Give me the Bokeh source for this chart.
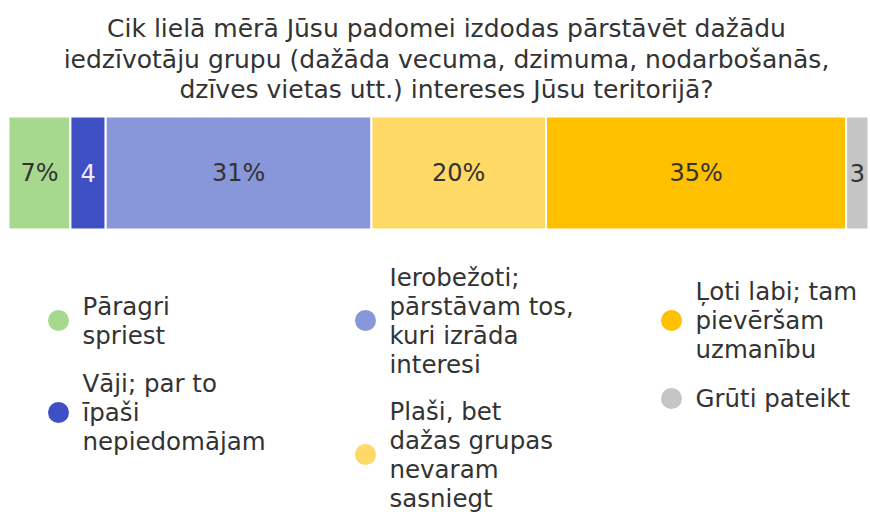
from bokeh.plotting import figure
from bokeh.models import Range1d, ColumnDataSource
from bokeh.core.properties import value
from bokeh.embed import file_html
from bokeh.resources import INLINE

# ---- data ----
title_lines = [
    "Cik lielā mērā Jūsu padomei izdodas pārstāvēt dažādu",
    "iedzīvotāju grupu (dažāda vecuma, dzimuma, nodarbošanās,",
    "dzīves vietas utt.) intereses Jūsu teritorijā?",
]
categories = [
    "Pāragri\nspriest",
    "Vāji; par to\nīpaši\nnepiedomājam",
    "Ierobežoti;\npārstāvam tos,\nkuri izrāda\ninteresi",
    "Plaši, bet\ndažas grupas\nnevaram\nsasniegt",
    "Ļoti labi; tam\npievēršam\nuzmanību",
    "Grūti pateikt",
]
values = [7.2, 4.1, 30.9, 20.3, 34.9, 2.6]
colors = ["#a6d98e", "#3f4fc4", "#8896da", "#ffd966", "#ffc000", "#c5c5c5"]
label_colors = ["#333333", "#eeeeff", "#333333", "#333333", "#333333", "#333333"]
legend_columns = [[0, 1], [2, 3], [4, 5]]

# ---- layout constants (page pixels) ----
W, H = 870, 512
X0 = 8
PX_PER_PCT = 8.6
BAR_TOP, BAR_BOTTOM = 116, 229
FONT = value("DejaVu Sans")
LINE_H = 28
GAP = 22
COL_X = [58, 365, 671]
FIRST_CENTER = 320

p = figure(width=W, height=H,
           x_range=Range1d(-X0 / PX_PER_PCT, (W - X0) / PX_PER_PCT),
           y_range=Range1d(H, 0), output_backend="svg",
           toolbar_location=None, min_border=0)
p.extra_x_ranges = {"px": Range1d(0, W)}
p.axis.visible = False
p.grid.visible = False
p.outline_line_color = None

# bars
lefts, rights, acc = [], [], 0.0
for v in values:
    lefts.append(acc)
    acc += v
    rights.append(acc)
mids = [(l + r) / 2 for l, r in zip(lefts, rights)]
labels = [f"{round(v)}%" if v >= 6 else f"{round(v)}" for v in values]
src = ColumnDataSource(dict(left=lefts, right=rights, color=colors,
                            mid=mids, label=labels, lc=label_colors))
p.quad(left="left", right="right", bottom=BAR_BOTTOM, top=BAR_TOP,
       fill_color="color", line_color="white", line_width=2, source=src)
p.text(x="mid", y=(BAR_TOP + BAR_BOTTOM) / 2, text="label", source=src,
       text_align="center", text_baseline="middle", text_color="lc",
       text_font=FONT, text_font_size="24px")

# title
p.text(x=[446] * 3, y=[28, 59, 89], text=title_lines, x_range_name="px",
       text_align="center", text_baseline="middle", text_color="#333333",
       text_font=FONT, text_font_size="25px")

# legend
lx, ly, tx, lt, lcol = [], [], [], [], []
for ci, col in enumerate(legend_columns):
    y = None
    prev_h = 0
    for idx in col:
        n = categories[idx].count("\n") + 1
        h = n * LINE_H
        if y is None:
            y = FIRST_CENTER
        else:
            y = y + prev_h / 2 + GAP + h / 2
        prev_h = h
        lx.append(COL_X[ci]); ly.append(y)
        tx.append(COL_X[ci] + 24); lt.append(categories[idx]); lcol.append(colors[idx])
p.scatter(x=lx, y=ly, size=21, marker="circle", fill_color=lcol, line_color=None,
          x_range_name="px")
p.text(x=tx, y=ly, text=lt, x_range_name="px", text_align="left",
       text_baseline="middle", text_color="#333333", text_font=FONT,
       text_font_size="24.5px", text_line_height=1.0)

open("out.html", "w").write(file_html(p, INLINE))
